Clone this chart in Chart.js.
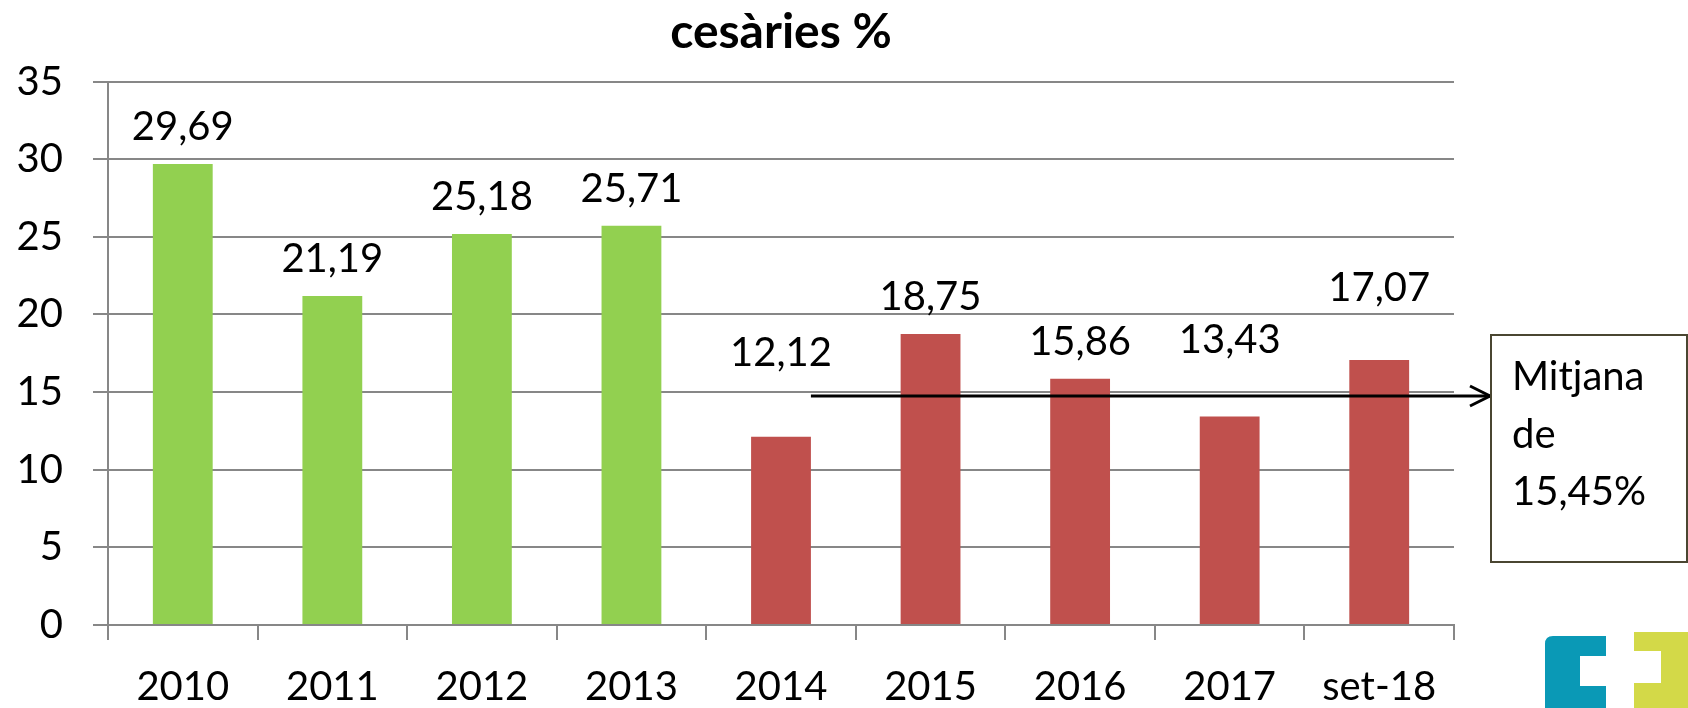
<!DOCTYPE html>
<html>
<head>
<meta charset="utf-8">
<script src="https://cdn.jsdelivr.net/npm/chart.js@4.4.1/dist/chart.umd.min.js"></script>
<style>
  html, body { margin: 0; padding: 0; background: #ffffff; }
  #wrap { width: 1688px; height: 708px; position: relative; }
</style>
</head>
<body>
<div id="wrap"><canvas id="chart"></canvas></div>
<script>
// Dades del gràfic
const categories = ['2010', '2011', '2012', '2013', '2014', '2015', '2016', '2017', 'set-18'];
const cesariesValues = [29.69, 21.19, 25.18, 25.71, 12.12, 18.75, 15.86, 13.43, 17.07];
const yTicks = [0, 5, 10, 15, 20, 25, 30, 35];
const firstNewPeriod = '2014';          // a partir d'aquí les barres són vermelles
const meanArrowValue = 14.75;           // alçada on es dibuixa la fletxa de la mitjana
const meanNoteLines = ['Mitjana', 'de', '15,45%'];
const chartTitle = 'cesàries %';

const FONT = 'Lato, "Open Sans", sans-serif';
const GREEN = '#92D050';
const RED = '#C0504D';
const GRID = '#878787';

// Algunes etiquetes estan desplaçades cap amunt a l'original (px extra)
const labelLift = [0, 0, 0, 0, 47, 0, 0, 39, 35];

// Etiquetes de valor a sobre de cada barra
const valueLabelsPlugin = {
    id: 'valueLabels',
    afterDatasetsDraw(chart) {
        const { ctx } = chart;
        const meta = chart.getDatasetMeta(0);
        ctx.save();
        ctx.font = '40px ' + FONT;
        ctx.fillStyle = '#000000';
        ctx.textAlign = 'center';
        ctx.textBaseline = 'alphabetic';
        meta.data.forEach((bar, i) => {
            const txt = cesariesValues[i].toFixed(2).replace('.', ',');
            ctx.fillText(txt, bar.x, bar.y - 24 - (labelLift[i] || 0));
        });
        ctx.restore();
    }
};

// Fletxa, requadre de la mitjana i logotip
const notesPlugin = {
    id: 'notes',
    afterDraw(chart) {
        const { ctx, chartArea, scales } = chart;
        const bar2014 = chart.getDatasetMeta(0).data[categories.indexOf(firstNewPeriod)];
        const y = scales.y.getPixelForValue(meanArrowValue);

        const boxLeft = chartArea.right + 37;
        const boxTop = 335, boxW = 196, boxH = 227;

        ctx.save();
        // fletxa
        const x0 = bar2014.x + bar2014.width / 2;
        const x1 = boxLeft - 1;
        ctx.strokeStyle = '#000000';
        ctx.lineWidth = 3;
        ctx.beginPath();
        ctx.moveTo(x0, y);
        ctx.lineTo(x1, y);
        ctx.stroke();
        ctx.beginPath();
        ctx.moveTo(x1 - 20, y - 10);
        ctx.lineTo(x1, y);
        ctx.lineTo(x1 - 20, y + 10);
        ctx.stroke();

        // requadre
        ctx.fillStyle = '#ffffff';
        ctx.fillRect(boxLeft, boxTop, boxW, boxH);
        ctx.strokeStyle = '#4a4631';
        ctx.lineWidth = 2;
        ctx.strokeRect(boxLeft, boxTop, boxW, boxH);
        ctx.fillStyle = '#000000';
        ctx.font = '40px ' + FONT;
        ctx.textAlign = 'left';
        ctx.textBaseline = 'alphabetic';
        meanNoteLines.forEach((line, i) => {
            ctx.fillText(line, boxLeft + 21, 390 + i * 57.5);
        });

        // logotip (cantonada inferior dreta)
        ctx.fillStyle = '#0a99b6';
        ctx.beginPath();
        ctx.moveTo(1545, 644);
        ctx.quadraticCurveTo(1545, 636, 1553, 636);
        ctx.lineTo(1606, 636);
        ctx.lineTo(1606, 656);
        ctx.lineTo(1580, 656);
        ctx.lineTo(1580, 686);
        ctx.lineTo(1606, 686);
        ctx.lineTo(1606, 708);
        ctx.lineTo(1545, 708);
        ctx.closePath();
        ctx.fill();

        ctx.fillStyle = '#d3d948';
        ctx.beginPath();
        ctx.moveTo(1634, 632);
        ctx.lineTo(1688, 632);
        ctx.lineTo(1688, 708);
        ctx.lineTo(1634, 708);
        ctx.lineTo(1634, 683);
        ctx.lineTo(1661, 683);
        ctx.lineTo(1661, 651);
        ctx.lineTo(1634, 651);
        ctx.closePath();
        ctx.fill();
        ctx.restore();
    }
};

const splitIndex = categories.indexOf(firstNewPeriod);

new Chart(document.getElementById('chart'), {
    type: 'bar',
    data: {
        labels: categories,
        datasets: [{
            label: chartTitle,
            data: cesariesValues,
            backgroundColor: (c) => c.dataIndex < splitIndex ? GREEN : RED,
            borderWidth: 0,
            barPercentage: 0.4,
            categoryPercentage: 1.0
        }]
    },
    options: {
        responsive: true,
        maintainAspectRatio: false,
        animation: false,
        layout: { padding: { left: 0, right: 234, top: 0, bottom: 0 } },
        scales: {
            x: {
                grid: {
                    offset: true,
                    drawOnChartArea: false,
                    drawTicks: true,
                    tickLength: 15,
                    color: GRID,
                    lineWidth: 2
                },
                border: { color: GRID, width: 2 },
                ticks: {
                    font: { family: FONT, size: 40 },
                    color: '#000000',
                    padding: 23,
                    maxRotation: 0,
                    autoSkip: false
                },
                afterFit(scale) { scale.height = 83; }
            },
            y: {
                min: 0,
                max: 35,
                afterBuildTicks(scale) { scale.ticks = yTicks.map(v => ({ value: v })); },
                grid: {
                    color: GRID,
                    lineWidth: 2,
                    tickLength: 15
                },
                border: { color: GRID, width: 2 },
                ticks: {
                    font: { family: FONT, size: 40 },
                    color: '#000000',
                    padding: 30
                },
                afterFit(scale) { scale.width = 108; }
            }
        },
        plugins: {
            legend: { display: false },
            tooltip: { enabled: false },
            title: {
                display: true,
                text: chartTitle,
                fullSize: false,
                color: '#000000',
                font: { family: FONT, size: 48, weight: 'bold' },
                padding: { top: 4, bottom: 20 }
            }
        }
    },
    plugins: [valueLabelsPlugin, notesPlugin]
});
</script>
</body>
</html>
